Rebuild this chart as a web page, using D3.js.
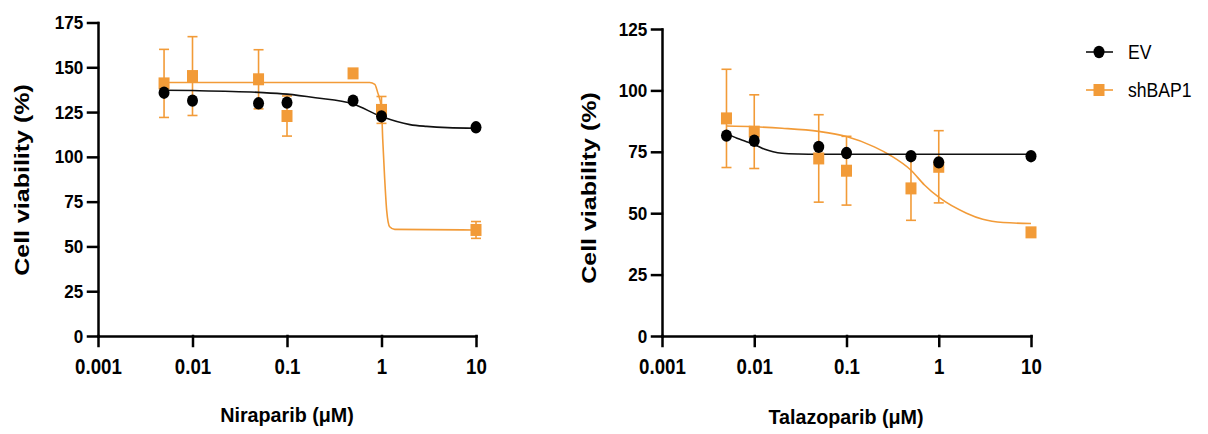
<!DOCTYPE html>
<html>
<head>
<meta charset="utf-8">
<script src="https://d3js.org/d3.v7.min.js"></script>
<style>
  body { margin: 0; background: #fff; }
  svg { display: block; }
  text { font-family: "Liberation Sans", Arial, sans-serif; fill: #000; }
</style>
</head>
<body>
<svg id="vis" width="1208" height="434"></svg>
<script>
  // doses (uM), same for both drugs
  const doses = [0.005, 0.01, 0.05, 0.1, 0.5, 1, 10]
  const seriesNames = ['EV', 'shBAP1']

  // Niraparib: mean cell viability (%) + error bar half-height
  const niraEV = [135.8, 131.4, 129.9, 130.3, 131.4, 122.6, 116.5]
  const niraSh = [141, 145.1, 143.3, 122.8, 146.6, 126.2, 59.2]
  const niraShErr = [19, 22, 16.5, 11.2, 0, 7.5, 4.7]

  // fitted curves as [dose, %]
  const niraEVFit = [[0.005, 137.2], [0.01, 137], [0.05, 136], [0.1, 135], [0.2, 133],
    [0.5, 129.5], [1, 122.5], [2, 118], [3, 117], [5, 116.3], [10, 116]]
  const niraShFit = [[0.005, 141.5], [0.75, 141.5], [0.85, 140.5], [0.91, 136], [1, 127],
    [1.03, 110], [1.08, 88], [1.135, 70], [1.22, 61], [1.38, 59.5], [10, 59.2]]

  // Talazoparib
  const talaEV = [81.6, 79.5, 77, 74.5, 73.2, 70.7, 73.2]
  const talaSh = [88.6, 83.2, 72.3, 67.3, 60.1, 68.9, 42.2]
  const talaShErr = [20, 15, 17.8, 14, 13, 14.7, 0]

  const talaEVFit = [[0.005, 82.5], [0.0065, 80.5], [0.008, 79.3], [0.01, 78], [0.013, 76],
    [0.016, 75], [0.02, 74.4], [0.03, 74.1], [0.05, 74], [10, 74]]
  const talaShFit = [[0.005, 85.5], [0.01, 85.2], [0.02, 84.6], [0.05, 83.3], [0.1, 81.2],
    [0.2, 77], [0.3, 73.5], [0.5, 67.5], [0.7, 61.5], [1, 56.5], [2, 50], [3, 47.5],
    [5, 46.2], [10, 45.8]]

  // axis ticks
  const xTicks = [0.001, 0.01, 0.1, 1, 10]
  const xTickLabels = ['0.001', '0.01', '0.1', '1', '10']
  const niraYTicks = [0, 25, 50, 75, 100, 125, 150, 175]
  const talaYTicks = [0, 25, 50, 75, 100, 125]

  const orange = '#F29B38'
  const svg = d3.select('#vis')

  function drawPanel(cfg) {
    const g = svg.append('g')
    const x = d3.scaleLog().domain([0.001, 10]).range([cfg.left, cfg.right])
    const y = d3.scaleLinear().domain([0, cfg.yMax]).range([336, cfg.top])

    // x axis
    const xAxis = g.append('g')
      .attr('transform', 'translate(0,336)')
      .call(d3.axisBottom(x).tickValues(xTicks)
        .tickFormat((d, i) => xTickLabels[i])
        .tickSize(10).tickSizeOuter(0).tickPadding(12))
    xAxis.selectAll('.tick text')
      .style('font-size', '22px').style('font-weight', 'bold')
      .attr('transform', 'scale(0.85,1)')

    // y axis
    const yAxis = g.append('g')
      .attr('transform', 'translate(' + cfg.left + ',0)')
      .call(d3.axisLeft(y).tickValues(cfg.yTicks)
        .tickSize(10).tickSizeOuter(0).tickPadding(6.5))
    yAxis.selectAll('.tick text')
      .style('font-size', '19px').style('font-weight', 'bold')
      .attr('transform', 'scale(0.9,1)')

    g.selectAll('.domain, .tick line')
      .attr('stroke', '#000').attr('stroke-width', 2.5).attr('stroke-linecap', 'square')

    // axis titles
    g.append('text')
      .attr('transform', 'translate(' + cfg.yTitleX + ',' + cfg.yTitleY + ') rotate(-90) scale(1,0.8)')
      .attr('text-anchor', 'middle')
      .style('font-size', '25px').style('font-weight', 'bold')
      .text('Cell viability (%)')

    g.append('text')
      .attr('transform', 'translate(' + cfg.xTitleX + ',' + cfg.xTitleY + ') scale(0.94,1)')
      .attr('text-anchor', 'middle')
      .style('font-size', '21px').style('font-weight', 'bold')
      .text(cfg.xTitle)

    const line = d3.line()
      .x(d => x(d[0]))
      .y(d => y(d[1]))
      .curve(d3.curveMonotoneX)

    // shBAP1 first so EV sits on top
    const shData = doses.map((d, i) => ({dose: d, v: cfg.sh[i], e: cfg.shErr[i]}))

    const bars = g.append('g').attr('stroke', orange).attr('stroke-width', 1.6).attr('fill', 'none')
    shData.filter(d => d.e > 0).forEach(function (d) {
      const cx = x(d.dose)
      bars.append('line').attr('x1', cx).attr('x2', cx).attr('y1', y(d.v + d.e)).attr('y2', y(d.v - d.e))
      bars.append('line').attr('x1', cx - 5).attr('x2', cx + 5).attr('y1', y(d.v + d.e)).attr('y2', y(d.v + d.e))
      bars.append('line').attr('x1', cx - 5).attr('x2', cx + 5).attr('y1', y(d.v - d.e)).attr('y2', y(d.v - d.e))
    })

    g.append('path')
      .datum(cfg.shFit)
      .attr('d', line)
      .attr('fill', 'none').attr('stroke', orange).attr('stroke-width', 1.6)

    g.append('path')
      .datum(cfg.evFit)
      .attr('d', line)
      .attr('fill', 'none').attr('stroke', '#111').attr('stroke-width', 1.6)

    g.selectAll('rect.sh')
      .data(shData)
      .enter()
      .append('rect')
      .attr('class', 'sh')
      .attr('x', d => x(d.dose) - 5.5)
      .attr('y', d => y(d.v) - 6)
      .attr('width', 11)
      .attr('height', 12)
      .attr('fill', orange)

    g.selectAll('ellipse.ev')
      .data(doses.map((d, i) => ({dose: d, v: cfg.ev[i]})))
      .enter()
      .append('ellipse')
      .attr('class', 'ev')
      .attr('cx', d => x(d.dose))
      .attr('cy', d => y(d.v))
      .attr('rx', 5.5)
      .attr('ry', 6.2)
      .attr('fill', '#000')
  }

  drawPanel({
    left: 98, right: 476, top: 22.5, yMax: 175, yTicks: niraYTicks,
    ev: niraEV, sh: niraSh, shErr: niraShErr, evFit: niraEVFit, shFit: niraShFit,
    xTitle: 'Niraparib (\u03bcM)', xTitleX: 287, xTitleY: 422,
    yTitleX: 29, yTitleY: 180
  })

  drawPanel({
    left: 662, right: 1031, top: 29, yMax: 125, yTicks: talaYTicks,
    ev: talaEV, sh: talaSh, shErr: talaShErr, evFit: talaEVFit, shFit: talaShFit,
    xTitle: 'Talazoparib (\u03bcM)', xTitleX: 846, xTitleY: 424,
    yTitleX: 596, yTitleY: 188
  })

  // legend
  const legend = svg.append('g')
  const legendColors = ['#111', orange]
  seriesNames.forEach(function (name, i) {
    const ly = 52 + i * 38
    legend.append('line')
      .attr('x1', 1086).attr('x2', 1113).attr('y1', ly).attr('y2', ly)
      .attr('stroke', legendColors[i]).attr('stroke-width', 1.6)
    if (i === 0) {
      legend.append('ellipse').attr('cx', 1099).attr('cy', ly).attr('rx', 5.5).attr('ry', 6.2).attr('fill', '#000')
    } else {
      legend.append('rect').attr('x', 1093.5).attr('y', ly - 6).attr('width', 11).attr('height', 12).attr('fill', orange)
    }
    legend.append('text')
      .attr('transform', 'translate(1128,' + (ly + 7) + ') scale(0.88,1)')
      .style('font-size', '20px')
      .text(name)
  })
</script>
</body>
</html>
